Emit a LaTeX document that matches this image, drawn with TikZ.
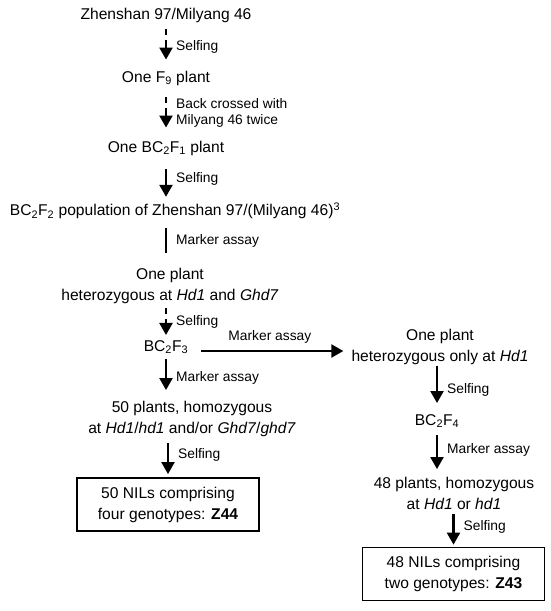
\documentclass[tikz,border=0pt]{standalone}
\usepackage{fontspec}
\setmainfont{Liberation Sans}
\usetikzlibrary{arrows.meta}

\begin{document}
\begin{tikzpicture}[x=1pt,y=-1pt,
    every node/.style={inner sep=0pt},
    stage/.style={font=\fontsize{15.6}{21}\selectfont,align=center},
    lbl/.style={font=\fontsize{13.8}{15.5}\selectfont,anchor=west,xshift=9pt,align=left},
    arr/.style={line width=2.3pt,-{Triangle[width=13pt,length=12pt]}},
    dasharr/.style={arr,dash pattern=on 6pt off 5pt on 60pt off 0pt},
    nilbox/.style={stage,draw,line width=1.8pt,minimum width=182pt,minimum height=53pt}]
  \useasboundingbox (0,0) rectangle (550,611);

  % left column
  \node[stage] (zm) at (166,15) {Zhenshan 97/Milyang 46};
  \node[stage] (f9) at (166,78) {One F\textsubscript{9} plant};
  \node[stage] (bc1) at (166,148) {One BC\textsubscript{2}F\textsubscript{1} plant};
  \node[stage] (bc2) at (175,211) {BC\textsubscript{2}F\textsubscript{2} population of Zhenshan 97/(Milyang 46)\textsuperscript{3}};
  \node[stage] (het) at (170,286) {One plant\\heterozygous at \textit{Hd1} and \textit{Ghd7}};
  \node[stage] (bc3) at (166,347) {BC\textsubscript{2}F\textsubscript{3}};
  \node[stage] (p50) at (192,419) {50 plants, homozygous\\at \textit{Hd1}/\textit{hd1} and/or \textit{Ghd7}/\textit{ghd7}};
  \node[nilbox] (nil44) at (168,504.5) {50 NILs comprising\\four genotypes: \textbf{Z44}};

  % right column
  \node[stage] (hetr) at (440,347) {One plant\\heterozygous only at \textit{Hd1}};
  \node[stage] (bc4) at (437,421) {BC\textsubscript{2}F\textsubscript{4}};
  \node[stage] (p48) at (454,493.5) {48 plants, homozygous\\at \textit{Hd1} or \textit{hd1}};
  \node[nilbox] (nil43) at (453.5,574) {48 NILs comprising\\two genotypes: \textbf{Z43}};

  % steps
  \draw[dasharr,shorten <=7pt,shorten >=11pt] (zm.south) -- (f9.north)
    node[lbl,pos=0.5] {Selfing};
  \draw[dasharr,shorten <=12pt,shorten >=13pt] (f9.south) -- (bc1.north)
    node[lbl,pos=0.5] {Back crossed with\\Milyang 46 twice};
  \draw[arr,shorten <=14pt,shorten >=6pt] (bc1.south) -- (bc1.south |- bc2.north)
    node[lbl,pos=0.5] {Selfing};
  \draw[line width=2.3pt,shorten <=9pt,shorten >=15pt] (bc1.south |- bc2.south) -- (bc1.south |- het.north)
    node[lbl,pos=0.45] {Marker assay};
  \draw[dasharr,shorten <=4pt,shorten >=5pt] (het.south -| bc3.north) -- (bc3.north)
    node[lbl,pos=0.5] {Selfing};
  \draw[arr,shorten <=13pt,shorten >=8pt] ([yshift=-4pt]bc3.east) -- ([yshift=-4pt]bc3.east -| hetr.west)
    node[font=\fontsize{13.8}{15.5}\selectfont,above=6pt,pos=0.5] {Marker assay};
  \draw[arr,shorten <=5pt,shorten >=11pt] (bc3.south) -- (bc3.south |- p50.north)
    node[lbl,pos=0.5] {Marker assay};
  \draw[arr,shorten <=6pt,shorten >=3pt] (nil44.north |- p50.south) -- (nil44.north)
    node[lbl,pos=0.45] {Selfing};
  \draw[arr,shorten <=1pt,shorten >=11pt] (hetr.south -| bc4.north) -- (bc4.north)
    node[lbl,pos=0.5] {Selfing};
  \draw[arr,shorten <=7pt,shorten >=8pt] (bc4.south) -- (bc4.south |- p48.north)
    node[lbl,pos=0.45] {Marker assay};
  \draw[arr,shorten <=4pt,shorten >=2pt] (p48.south -| nil43.north) -- (nil43.north)
    node[lbl,pos=0.45] {Selfing};
\end{tikzpicture}
\end{document}
